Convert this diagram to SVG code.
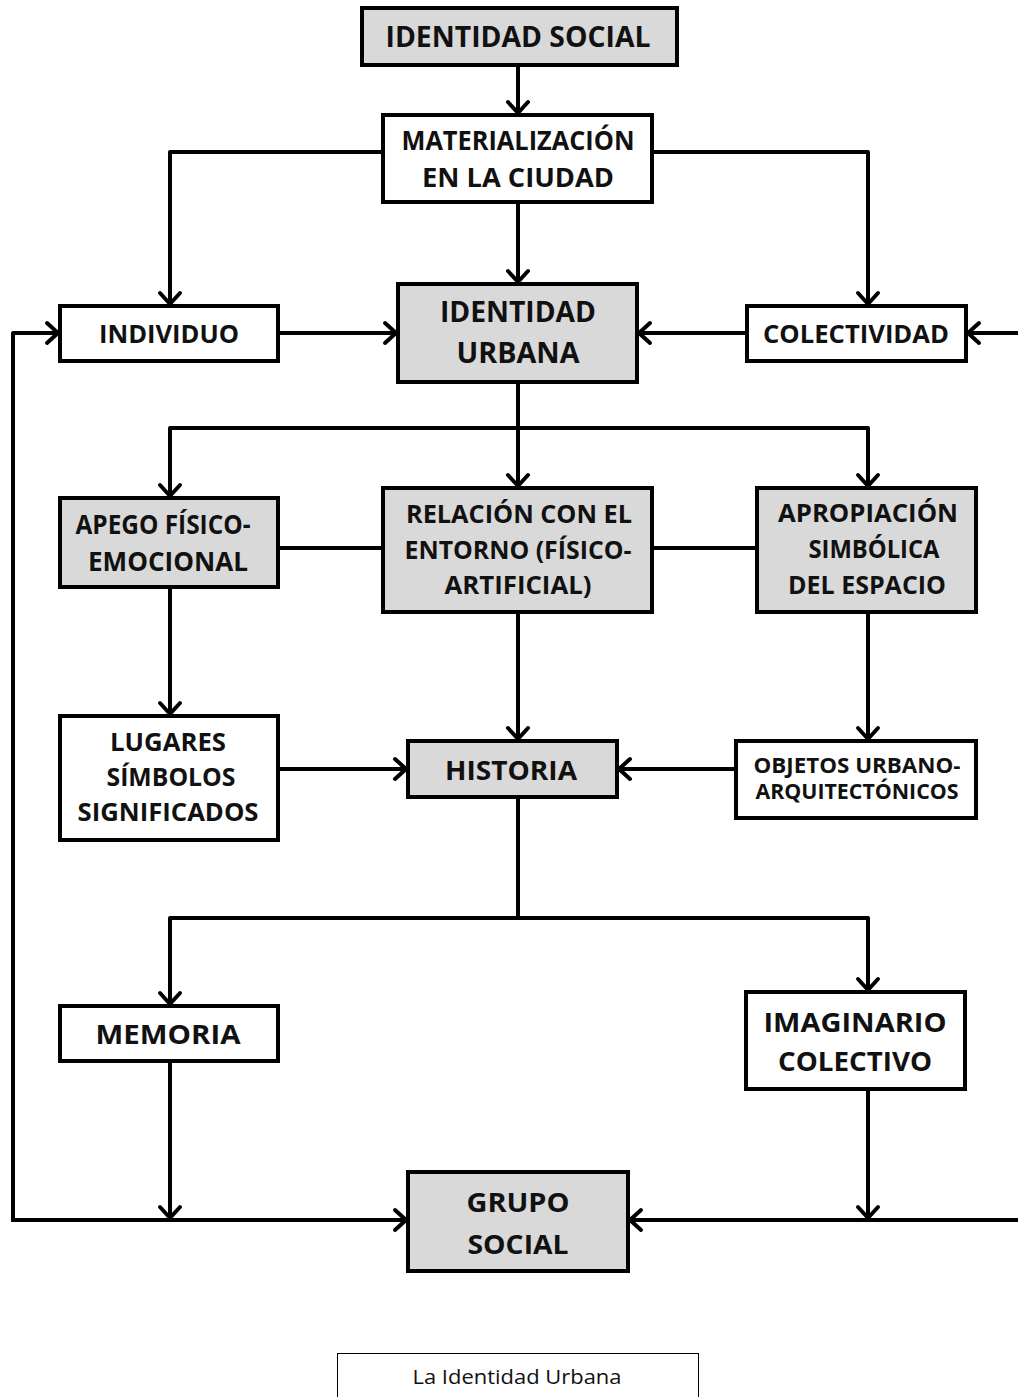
<svg xmlns="http://www.w3.org/2000/svg" width="1018" height="1397" viewBox="0 0 1018 1397">
<style>
.box{stroke:#000;stroke-width:4;fill:#fff}
.g{fill:#d9d9d9}
.t{font-family:"Open Sans","Liberation Sans",sans-serif;font-weight:bold;fill:#111;text-anchor:middle}
.c{fill:none;stroke:#000;stroke-width:4;stroke-linejoin:round}
</style>
<defs>
<marker id="arr" markerUnits="userSpaceOnUse" markerWidth="30" markerHeight="30" viewBox="-16 -15 30 30" refX="0" refY="0" orient="auto">
<path d="M-11,-10 L0,0 L-11,10" fill="none" stroke="#000" stroke-width="4" stroke-linecap="round" stroke-linejoin="round"/>
</marker>
</defs>
<rect width="1018" height="1397" fill="#fff"/>
<g id="connectors">
<line class="c" x1="518" y1="65" x2="518" y2="113" marker-end="url(#arr)"/>
<polyline class="c" points="383,152 170,152 170,304" marker-end="url(#arr)"/>
<polyline class="c" points="652,152 868,152 868,304" marker-end="url(#arr)"/>
<line class="c" x1="518" y1="202" x2="518" y2="282" marker-end="url(#arr)"/>
<line class="c" x1="278" y1="333" x2="396" y2="333" marker-end="url(#arr)"/>
<line class="c" x1="747" y1="333" x2="639" y2="333" marker-end="url(#arr)"/>
<line class="c" x1="1020" y1="333" x2="968" y2="333" marker-end="url(#arr)"/>
<polyline class="c" points="13,1220 13,333 58,333" marker-end="url(#arr)"/>
<line class="c" x1="518" y1="382" x2="518" y2="486" marker-end="url(#arr)"/>
<polyline class="c" points="518,428 170,428 170,496" marker-end="url(#arr)"/>
<polyline class="c" points="518,428 868,428 868,486" marker-end="url(#arr)"/>
<line class="c" x1="278" y1="548" x2="383" y2="548"/>
<line class="c" x1="652" y1="548" x2="757" y2="548"/>
<line class="c" x1="170" y1="587" x2="170" y2="714" marker-end="url(#arr)"/>
<line class="c" x1="518" y1="612" x2="518" y2="739" marker-end="url(#arr)"/>
<line class="c" x1="868" y1="612" x2="868" y2="739" marker-end="url(#arr)"/>
<line class="c" x1="278" y1="769" x2="406" y2="769" marker-end="url(#arr)"/>
<line class="c" x1="735" y1="769" x2="619" y2="769" marker-end="url(#arr)"/>
<line class="c" x1="518" y1="797" x2="518" y2="918"/>
<polyline class="c" points="518,918 170,918 170,1004" marker-end="url(#arr)"/>
<polyline class="c" points="518,918 868,918 868,990" marker-end="url(#arr)"/>
<line class="c" x1="170" y1="1061" x2="170" y2="1218" marker-end="url(#arr)"/>
<line class="c" x1="868" y1="1089" x2="868" y2="1218" marker-end="url(#arr)"/>
<line class="c" x1="11" y1="1220" x2="406" y2="1220" marker-end="url(#arr)"/>
<line class="c" x1="1020" y1="1220" x2="630" y2="1220" marker-end="url(#arr)"/>
</g>
<g id="identidad-social">
<rect class="box g" x="362" y="8" width="315" height="57"/>
<text class="t" x="518" y="47" font-size="29" textLength="265" lengthAdjust="spacingAndGlyphs">IDENTIDAD SOCIAL</text>
</g>
<g id="materializacion">
<rect class="box" x="383" y="115" width="269" height="87"/>
<text class="t" x="518" y="150" font-size="26" textLength="233" lengthAdjust="spacingAndGlyphs">MATERIALIZACIÓN</text>
<text class="t" x="518" y="187" font-size="26" textLength="192" lengthAdjust="spacingAndGlyphs">EN LA CIUDAD</text>
</g>
<g id="individuo">
<rect class="box" x="60" y="306" width="218" height="55"/>
<text class="t" x="169" y="343" font-size="25" textLength="140" lengthAdjust="spacingAndGlyphs">INDIVIDUO</text>
</g>
<g id="identidad-urbana">
<rect class="box g" x="398" y="284" width="239" height="98"/>
<text class="t" x="518" y="322" font-size="29" textLength="156" lengthAdjust="spacingAndGlyphs">IDENTIDAD</text>
<text class="t" x="518" y="363" font-size="29" textLength="123" lengthAdjust="spacingAndGlyphs">URBANA</text>
</g>
<g id="colectividad">
<rect class="box" x="747" y="306" width="219" height="55"/>
<text class="t" x="856" y="343" font-size="25" textLength="186" lengthAdjust="spacingAndGlyphs">COLECTIVIDAD</text>
</g>
<g id="apego">
<rect class="box g" x="60" y="498" width="218" height="89"/>
<text class="t" x="163" y="534" font-size="26" textLength="175" lengthAdjust="spacingAndGlyphs">APEGO FÍSICO-</text>
<text class="t" x="168" y="571" font-size="26" textLength="160" lengthAdjust="spacingAndGlyphs">EMOCIONAL</text>
</g>
<g id="relacion">
<rect class="box g" x="383" y="488" width="269" height="124"/>
<text class="t" x="519" y="523" font-size="25" textLength="226" lengthAdjust="spacingAndGlyphs">RELACIÓN CON EL</text>
<text class="t" x="518" y="559" font-size="25" textLength="227" lengthAdjust="spacingAndGlyphs">ENTORNO (FÍSICO-</text>
<text class="t" x="518" y="594" font-size="25" textLength="147" lengthAdjust="spacingAndGlyphs">ARTIFICIAL)</text>
</g>
<g id="apropiacion">
<rect class="box g" x="757" y="488" width="219" height="124"/>
<text class="t" x="868" y="522" font-size="25" textLength="180" lengthAdjust="spacingAndGlyphs">APROPIACIÓN</text>
<text class="t" x="874" y="558" font-size="25" textLength="131" lengthAdjust="spacingAndGlyphs">SIMBÓLICA</text>
<text class="t" x="867" y="594" font-size="25" textLength="158" lengthAdjust="spacingAndGlyphs">DEL ESPACIO</text>
</g>
<g id="lugares">
<rect class="box" x="60" y="716" width="218" height="124"/>
<text class="t" x="168" y="751" font-size="25" textLength="116" lengthAdjust="spacingAndGlyphs">LUGARES</text>
<text class="t" x="171" y="786" font-size="25" textLength="129" lengthAdjust="spacingAndGlyphs">SÍMBOLOS</text>
<text class="t" x="168" y="821" font-size="25" textLength="181" lengthAdjust="spacingAndGlyphs">SIGNIFICADOS</text>
</g>
<g id="historia">
<rect class="box g" x="408" y="741" width="209" height="56"/>
<text class="t" x="511" y="780" font-size="27" textLength="132" lengthAdjust="spacingAndGlyphs">HISTORIA</text>
</g>
<g id="objetos">
<rect class="box" x="736" y="741" width="240" height="77"/>
<text class="t" x="857" y="773" font-size="21" textLength="207" lengthAdjust="spacingAndGlyphs">OBJETOS URBANO-</text>
<text class="t" x="857" y="799" font-size="21" textLength="203" lengthAdjust="spacingAndGlyphs">ARQUITECTÓNICOS</text>
</g>
<g id="memoria">
<rect class="box" x="60" y="1006" width="218" height="55"/>
<text class="t" x="168" y="1044" font-size="27" textLength="145" lengthAdjust="spacingAndGlyphs">MEMORIA</text>
</g>
<g id="imaginario">
<rect class="box" x="746" y="992" width="219" height="97"/>
<text class="t" x="855" y="1032" font-size="27" textLength="183" lengthAdjust="spacingAndGlyphs">IMAGINARIO</text>
<text class="t" x="855" y="1071" font-size="27" textLength="154" lengthAdjust="spacingAndGlyphs">COLECTIVO</text>
</g>
<g id="grupo-social">
<rect class="box g" x="408" y="1172" width="220" height="99"/>
<text class="t" x="518" y="1212" font-size="27" textLength="103" lengthAdjust="spacingAndGlyphs">GRUPO</text>
<text class="t" x="518" y="1254" font-size="27" textLength="101" lengthAdjust="spacingAndGlyphs">SOCIAL</text>
</g>
<g id="caption">
<rect x="337.5" y="1353.5" width="361" height="50" fill="#fff" stroke="#000" stroke-width="1"/>
<text x="517" y="1384" font-family="'Open Sans','Liberation Sans',sans-serif" font-size="20" fill="#111" text-anchor="middle" textLength="209" lengthAdjust="spacingAndGlyphs">La Identidad Urbana</text>
</g>
</svg>
